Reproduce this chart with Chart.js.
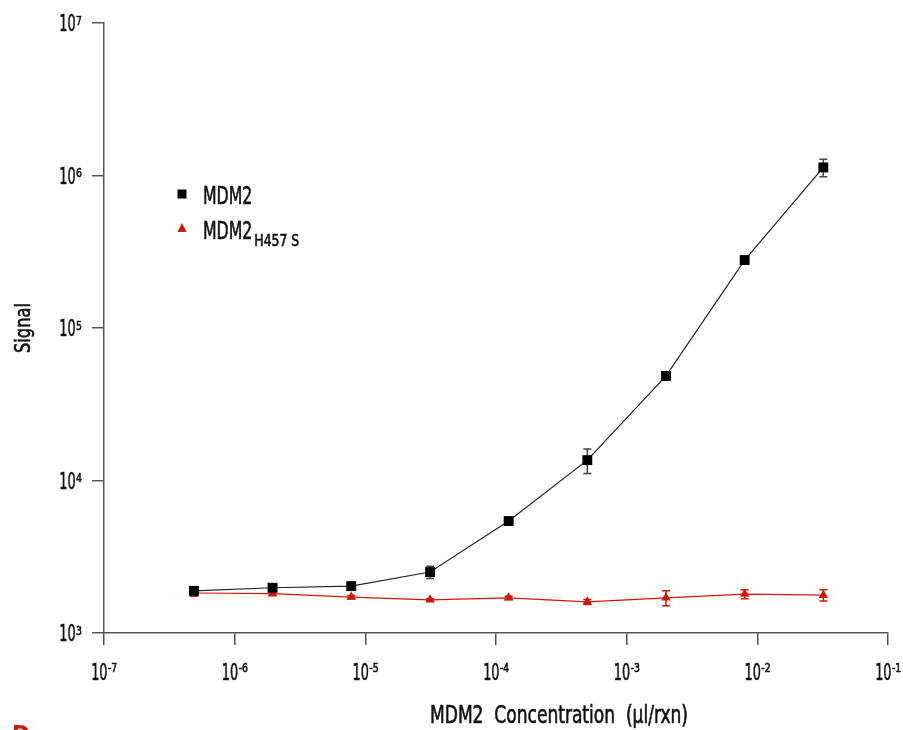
<!DOCTYPE html>
<html>
<head>
<meta charset="utf-8">
<script src="https://cdn.jsdelivr.net/npm/chart.js@4"></script>
<style>
  html, body { margin: 0; padding: 0; background: #fff; }
  #wrap { width: 903px; height: 730px; position: relative; }
</style>
</head>
<body>
<div id="wrap"><canvas id="grafico"></canvas></div>
<script>
// concentração (µl/rxn), diluições 1:4
const concentracoes = [4.88e-7, 1.95e-6, 7.8e-6, 3.13e-5, 1.25e-4, 5e-4, 2e-3, 8e-3, 3.2e-2];
const sinalMDM2 = [1890, 1980, 2030, 2510, 5420, 13600, 48500, 279000, 1130000];
const erroMDM2 = [80, 60, 70, 230, 200, 2500, 3000, 15000, 150000];
const sinalMutante = [1830, 1810, 1720, 1650, 1700, 1600, 1700, 1800, 1770];
const erroMutante = [90, 40, 40, 30, 40, 60, 190, 120, 150];

const ticksX = [1e-7, 1e-6, 1e-5, 1e-4, 1e-3, 1e-2, 1e-1];
const expoentesX = ['-7', '-6', '-5', '-4', '-3', '-2', '-1'];
const ticksY = [1e3, 1e4, 1e5, 1e6, 1e7];
const expoentesY = ['3', '4', '5', '6', '7'];

const FONTE = "'DejaVu Sans Condensed', 'DejaVu Sans', sans-serif";
const PRETO = '#000';
const VERMELHO = '#cc1a00';
const COR_TEXTO = '#111';

// escreve texto com compressão horizontal (fonte original era bem estreita)
function escrever(ctx, texto, x, y, tamanho, escala, alinhamento) {
  ctx.save();
  ctx.font = tamanho + 'px ' + FONTE;
  ctx.textAlign = alinhamento || 'left';
  ctx.textBaseline = 'alphabetic';
  ctx.translate(x, y);
  ctx.scale(escala, 1);
  ctx.fillText(texto, 0, 0);
  ctx.strokeStyle = ctx.fillStyle;
  ctx.lineWidth = 0.6;
  ctx.strokeText(texto, 0, 0);
  ctx.restore();
}

function largura(ctx, texto, tamanho, escala) {
  ctx.save();
  ctx.font = tamanho + 'px ' + FONTE;
  const w = ctx.measureText(texto).width * escala;
  ctx.restore();
  return w;
}

const extras = {
  id: 'extras',
  beforeDatasetsDraw(chart) {
    const { ctx, scales: { x, y } } = chart;
    const grupos = [
      [sinalMDM2, erroMDM2, '#444'],
      [sinalMutante, erroMutante, VERMELHO]
    ];
    grupos.forEach(([vals, erros, cor]) => {
      ctx.save();
      ctx.strokeStyle = cor;
      ctx.lineWidth = 1.5;
      vals.forEach((v, i) => {
        const px = x.getPixelForValue(concentracoes[i]);
        const topo = y.getPixelForValue(v + erros[i]);
        const base = y.getPixelForValue(v - erros[i]);
        ctx.beginPath();
        ctx.moveTo(px, topo); ctx.lineTo(px, base);
        ctx.moveTo(px - 4, topo); ctx.lineTo(px + 4, topo);
        ctx.moveTo(px - 4, base); ctx.lineTo(px + 4, base);
        ctx.stroke();
      });
      ctx.restore();
    });
  },
  afterDraw(chart) {
    const { ctx, scales: { x, y } } = chart;
    ctx.save();
    ctx.fillStyle = COR_TEXTO;

    // rótulos do eixo x: 10 com expoente
    ticksX.forEach((v, i) => {
      const px = x.getPixelForValue(v);
      const w10 = largura(ctx, '10', 23, 0.62);
      const wExp = largura(ctx, expoentesX[i], 13, 0.8);
      const ini = px - (w10 + wExp) / 2;
      escrever(ctx, '10', ini, 680, 23, 0.62);
      escrever(ctx, expoentesX[i], ini + w10 + 0.5, 672, 13, 0.8);
    });

    // rótulos do eixo y
    ticksY.forEach((v, i) => {
      const py = y.getPixelForValue(v);
      const wExp = largura(ctx, expoentesY[i], 13, 0.8);
      escrever(ctx, expoentesY[i], 82, py + 1.5, 13, 0.8, 'right');
      escrever(ctx, '10', 82 - wExp - 0.5, py + 8, 23, 0.62, 'right');
    });

    // legenda
    ctx.fillStyle = PRETO;
    ctx.fillRect(177.5, 189.5, 9, 9);
    ctx.fillStyle = VERMELHO;
    ctx.beginPath();
    ctx.moveTo(182, 223); ctx.lineTo(186.5, 232); ctx.lineTo(177.5, 232);
    ctx.closePath(); ctx.fill();

    ctx.fillStyle = COR_TEXTO;
    escrever(ctx, 'MDM2', 203, 204, 24, 0.73);
    escrever(ctx, 'MDM2', 203, 239, 24, 0.73);
    const wM = largura(ctx, 'MDM2', 24, 0.73);
    escrever(ctx, 'H457 S', 203 + wM + 2, 246, 15, 0.92);

    // títulos dos eixos
    const tituloX = 'MDM2  Concentration  (μl/rxn)';
    const escX = 258 / largura(ctx, tituloX, 24, 1);
    escrever(ctx, tituloX, 559, 723, 24, escX, 'center');

    ctx.save();
    ctx.translate(30, 328);
    ctx.rotate(-Math.PI / 2);
    const escY = 50 / largura(ctx, 'Signal', 22, 1);
    escrever(ctx, 'Signal', 0, 0, 22, escY, 'center');
    ctx.restore();

    // letra do painel (cortada na borda)
    ctx.fillStyle = VERMELHO;
    ctx.font = 'bold 24px ' + FONTE;
    ctx.textAlign = 'left';
    ctx.textBaseline = 'top';
    ctx.fillText('D', 12, 725);

    ctx.restore();
  }
};

new Chart(document.getElementById('grafico'), {
  type: 'line',
  data: {
    datasets: [
      {
        label: 'MDM2',
        data: concentracoes.map((c, i) => ({ x: c, y: sinalMDM2[i] })),
        borderColor: '#222',
        borderWidth: 1.2,
        pointStyle: 'rect',
        pointRadius: 7,
        pointBackgroundColor: PRETO,
        pointBorderColor: PRETO,
        pointBorderWidth: 0,
        tension: 0
      },
      {
        label: 'MDM2 H457 S',
        data: concentracoes.map((c, i) => ({ x: c, y: sinalMutante[i] })),
        borderColor: VERMELHO,
        borderWidth: 1.2,
        pointStyle: 'triangle',
        pointRadius: 5.5,
        pointBackgroundColor: VERMELHO,
        pointBorderColor: VERMELHO,
        pointBorderWidth: 0,
        tension: 0
      }
    ]
  },
  options: {
    responsive: true,
    maintainAspectRatio: false,
    animation: false,
    layout: { padding: { top: 23, right: 15, left: 0, bottom: 0 } },
    plugins: {
      legend: { display: false },
      tooltip: { enabled: false }
    },
    scales: {
      x: {
        type: 'logarithmic',
        min: 1e-7,
        max: 1e-1,
        afterBuildTicks: s => { s.ticks = ticksX.map(v => ({ value: v })); },
        afterFit: s => { s.height = 97; s.paddingLeft = 0; s.paddingRight = 0; },
        border: { color: '#555', width: 1.5 },
        grid: { drawOnChartArea: false, drawTicks: true, tickLength: 12, color: '#555', lineWidth: 1.5 },
        ticks: { display: false, autoSkip: false }
      },
      y: {
        type: 'logarithmic',
        min: 1e3,
        max: 1e7,
        afterBuildTicks: s => { s.ticks = ticksY.map(v => ({ value: v })); },
        afterFit: s => { s.width = 104; s.paddingTop = 0; s.paddingBottom = 0; },
        border: { color: '#555', width: 1.5 },
        grid: { drawOnChartArea: false, drawTicks: true, tickLength: 12, color: '#555', lineWidth: 1.5 },
        ticks: { display: false, autoSkip: false }
      }
    }
  },
  plugins: [extras]
});
</script>
</body>
</html>
